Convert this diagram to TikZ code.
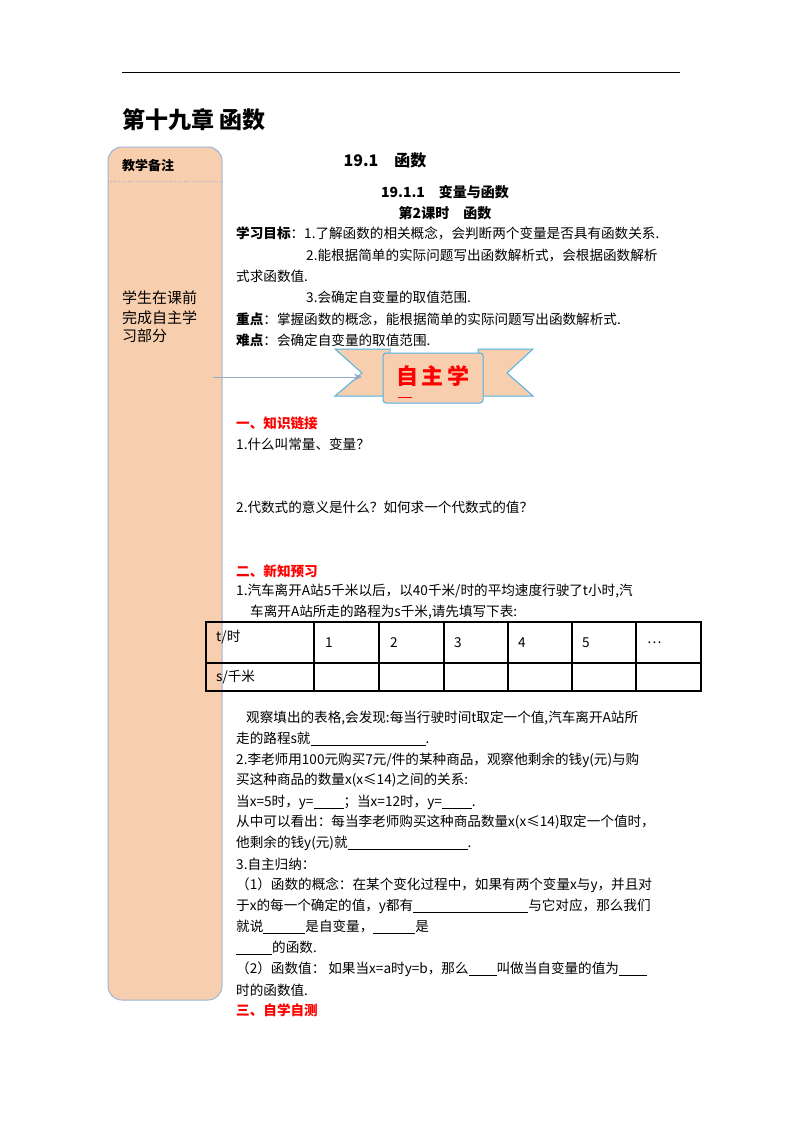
\documentclass[tikz,border=0pt]{standalone}
\usepackage{fontspec}
\setmainfont{Noto Sans CJK SC}
\usetikzlibrary{arrows.meta}
\definecolor{peach}{HTML}{F8CFAE}
\definecolor{pblue}{HTML}{9DB3DA}
\definecolor{bblue}{HTML}{4FB3E6}
\definecolor{ared}{HTML}{FF0000}
\newcommand{\blk}[1]{\rule[-2pt]{#1pt}{0.5pt}}
\begin{document}
\begin{tikzpicture}[x=1pt,y=-1pt,
  t/.style={anchor=west,inner sep=0pt,font=\fontsize{13.6}{13.6}\selectfont},
  tb/.style={t,font=\fontsize{13.6}{13.6}\selectfont\bfseries},
  h/.style={tb,text=ared},
  c/.style={inner sep=0pt,font=\fontsize{13}{13}\selectfont}]
\useasboundingbox (0,0) rectangle (800,1132);
\fill[white] (0,0) rectangle (800,1132);
\draw[line width=0.8pt] (122,72) -- (680,72);
\node[t,font=\fontsize{23}{23}\selectfont\bfseries] (title) at (122,120) {第十九章\ 函数};
% left panel
\draw[pblue,fill=peach,line width=1pt,rounded corners=14pt] (108,147) rectangle (222,1000);
\draw[pblue,dotted,line width=0.8pt] (108,181) -- (222,181);
\node[tb,font=\fontsize{13}{13}\selectfont\bfseries] (note) at (122,166) {教学备注};
\node[t,font=\fontsize{15}{15}\selectfont] (p1) at (122,298) {学生在课前};
\node[t,font=\fontsize{15}{15}\selectfont] (p2) at (122,318) {完成自主学};
\node[t,font=\fontsize{15}{15}\selectfont] (p3) at (122,336) {习部分};
% headings
\node[c,font=\fontsize{16}{16}\selectfont\bfseries] (s1) at (385,160) {19.1\quad 函数};
\node[c,font=\fontsize{14}{14}\selectfont\bfseries] (s2) at (445,192) {19.1.1\quad 变量与函数};
\node[c,font=\fontsize{14}{14}\selectfont\bfseries] (s3) at (445,213) {第2课时\quad 函数};
\node[t] (g1) at (236,233) {\textbf{学习目标}：1.了解函数的相关概念，会判断两个变量是否具有函数关系.};
\node[t] (g2) at (306,255) {2.能根据简单的实际问题写出函数解析式，会根据函数解析};
\node[t] (g3) at (236,276) {式求函数值.};
\node[t] (g4) at (306,297) {3.会确定自变量的取值范围.};
\node[t] (k1) at (236,319) {\textbf{重点}：掌握函数的概念，能根据简单的实际问题写出函数解析式.};
\node[t] (k2) at (236,340) {\textbf{难点}：会确定自变量的取值范围.};
% banner
\draw[bblue,fill=peach,line width=1pt] (335,349) -- (390,349) -- (390,396) -- (335,396) -- (362,373) -- cycle;
\draw[bblue,fill=peach,line width=1pt] (533,349) -- (478,349) -- (478,396) -- (533,396) -- (507,373) -- cycle;
\draw[bblue,fill=peach,line width=1pt,rounded corners=3pt] (383,353) rectangle (483,403);
\node[c,font=\fontsize{22}{22}\selectfont\bfseries,text=ared] (ban) at (433,376) {自\,主\,学};
\draw[ared,line width=1pt] (398,397) -- (412,397);
\coordinate (a0) at (213,377);
\coordinate (a1) at (362,377);
\draw[pblue!80!gray,line width=1pt,-{Stealth[length=8pt,width=7pt]}] (a0) -- (a1);
% section 1
\node[h] (h1) at (236,423) {一、知识链接};
\node[t] (q1) at (236,444) {1.什么叫常量、变量？};
\node[t] (q2) at (236,507) {2.代数式的意义是什么？如何求一个代数式的值？};
\node[h] (h2) at (236,571) {二、新知预习};
\node[t] (r1) at (236,591) {1.汽车离开A站5千米以后，以40千米/时的平均速度行驶了t小时,汽};
\node[t] (r2) at (250,612) {车离开A站所走的路程为s千米,请先填写下表:};
% table
\draw[line width=1.2pt] (206,622) rectangle (701,691);
\draw[line width=1.2pt] (206,663) -- (701,663);
\foreach \x in {314,379,444,508,572,636} \draw[line width=1.2pt] (\x,622) -- (\x,691);
\node[t] (tt) at (216,637) {t/时};
\node[t] (ts) at (216,677) {s/千米};
\node[t] (n1) at (325,643) {1};
\node[t] (n2) at (390,643) {2};
\node[t] (n3) at (454,643) {3};
\node[t] (n4) at (518,643) {4};
\node[t] (n5) at (582,643) {5};
\node[t] (n6) at (647,643) {…};
\node[t] (o1) at (246,718) {观察填出的表格,会发现:每当行驶时间t取定一个值,汽车离开A站所};
\node[t] (o2) at (236,739) {走的路程s就\blk{115}.};
\node[t] (o3) at (236,760) {2.李老师用100元购买7元/件的某种商品，观察他剩余的钱y(元)与购};
\node[t] (o4) at (236,780) {买这种商品的数量x(x≤14)之间的关系:};
\node[t] (o5) at (236,802) {当x=5时，y=\blk{30}；当x=12时，y=\blk{30}.};
\node[t] (o6) at (236,822) {从中可以看出：每当李老师购买这种商品数量x(x≤14)取定一个值时，};
\node[t] (o7) at (236,843) {他剩余的钱y(元)就\blk{120}.};
\node[t] (o8) at (236,864) {3.自主归纳：};
\node[t] (o9) at (236,885) {（1）函数的概念：在某个变化过程中，如果有两个变量x与y，并且对};
\node[t] (o10) at (236,906) {于x的每一个确定的值，y都有\blk{115}与它对应，那么我们};
\node[t] (o11) at (236,927) {就说\blk{42}是自变量，\blk{42}是};
\node[t] (o12) at (236,948) {\blk{36}的函数.};
\node[t] (o13) at (236,969) {（2）函数值： 如果当x=a时y=b，那么\blk{28}叫做当自变量的值为\blk{28}};
\node[t] (o14) at (236,990) {时的函数值.};
\node[h] (h3) at (236,1010) {三、自学自测};
\end{tikzpicture}
\end{document}
